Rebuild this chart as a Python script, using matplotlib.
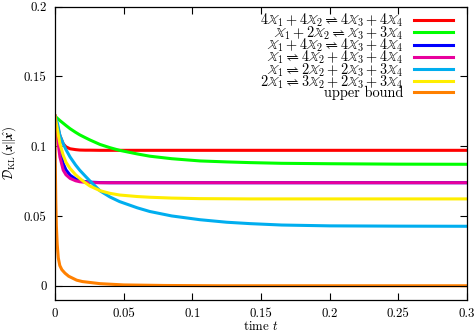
import matplotlib
matplotlib.use("Agg")
import matplotlib.pyplot as plt
from matplotlib.ticker import FuncFormatter, MultipleLocator

plt.rcParams["font.family"] = "serif"
plt.rcParams["font.serif"] = ["cmr10"]
plt.rcParams["mathtext.fontset"] = "cm"
plt.rcParams["axes.unicode_minus"] = False
plt.rcParams["axes.formatter.use_mathtext"] = True

# ── data ─────────────────────────────────────────────────────────────────────
t = [0, 0.001, 0.002, 0.0036, 0.006, 0.008, 0.011, 0.015, 0.018, 0.022, 0.0255,
     0.0328, 0.04, 0.047, 0.06, 0.069, 0.085, 0.1056, 0.125, 0.142, 0.165,
     0.2, 0.25, 0.3]

red = [0.1215, 0.1175, 0.1135, 0.1075, 0.1017, 0.0995, 0.0981, 0.0975, 0.0972, 0.0971, 0.0971,
       0.0970, 0.0970, 0.0970, 0.0970, 0.0970, 0.0970, 0.0970, 0.0970, 0.0970, 0.0970,
       0.0970, 0.0970, 0.0970]
green = [0.1215, 0.1206, 0.1197, 0.1183, 0.1164, 0.1148, 0.1125, 0.1099, 0.1081, 0.1061, 0.1044,
         0.1012, 0.0989, 0.0970, 0.0944, 0.0928, 0.0910, 0.0894, 0.0887, 0.0882, 0.0877,
         0.0874, 0.0871, 0.0870]
blue = [0.1215, 0.1140, 0.1070, 0.0980, 0.0875, 0.0830, 0.0792, 0.0765, 0.0752, 0.0746, 0.0742,
        0.0739, 0.0738, 0.0738, 0.0738, 0.0738, 0.0738, 0.0738, 0.0738, 0.0738, 0.0738,
        0.0738, 0.0738, 0.0738]
magenta = [0.1215, 0.1135, 0.1045, 0.0922, 0.0828, 0.0795, 0.0769, 0.0752, 0.0745, 0.0741, 0.0739,
           0.0738, 0.0738, 0.0738, 0.0738, 0.0738, 0.0738, 0.0738, 0.0738, 0.0738, 0.0738,
           0.0738, 0.0738, 0.0738]
cyan = [0.1215, 0.1190, 0.1155, 0.1076, 0.1017, 0.0975, 0.0922, 0.0865, 0.0828, 0.0786, 0.0750,
        0.0680, 0.0636, 0.0603, 0.0558, 0.0532, 0.0500, 0.0473, 0.0455, 0.0445, 0.0435,
        0.0429, 0.0427, 0.0426]
yellow = [0.1215, 0.1160, 0.1105, 0.1017, 0.0934, 0.0885, 0.0840, 0.0795, 0.0769, 0.0738, 0.0714,
          0.0681, 0.0662, 0.0650, 0.0639, 0.0634, 0.0628, 0.0624, 0.0623, 0.0622, 0.0622,
          0.0622, 0.0622, 0.0622]

t_bound = [0, 0.0001, 0.0003, 0.0006, 0.001, 0.0016, 0.0024, 0.0035, 0.005, 0.0073,
           0.01, 0.0158, 0.02, 0.0328, 0.05, 0.08, 0.12, 0.3]
bound = [0.1215, 0.100, 0.082, 0.060, 0.043, 0.030, 0.020, 0.0145, 0.0115, 0.0090,
         0.0068, 0.0040, 0.0030, 0.0015, 0.0006, 0.0002, 0.0, 0.0]

labels = [
    r"$4\mathbb{X}_1 + 4\mathbb{X}_2 \rightleftharpoons 4\mathbb{X}_3 + 4\mathbb{X}_4$",
    r"$\mathbb{X}_1 + 2\mathbb{X}_2 \rightleftharpoons \mathbb{X}_3 + 3\mathbb{X}_4$",
    r"$\mathbb{X}_1 + 4\mathbb{X}_2 \rightleftharpoons 4\mathbb{X}_3 + 4\mathbb{X}_4$",
    r"$\mathbb{X}_1 \rightleftharpoons 4\mathbb{X}_2 + 4\mathbb{X}_3 + 4\mathbb{X}_4$",
    r"$\mathbb{X}_1 \rightleftharpoons 2\mathbb{X}_2 + 2\mathbb{X}_3 + 3\mathbb{X}_4$",
    r"$2\mathbb{X}_1 \rightleftharpoons 3\mathbb{X}_2 + 2\mathbb{X}_3 + 3\mathbb{X}_4$",
    "upper bound",
]
series = [red, green, blue, magenta, cyan, yellow]
colors = ["#ff0000", "#00ff00", "#0000ff", "#e8009c", "#00aeef", "#ffee00", "#ff8000"]

# ── plot ─────────────────────────────────────────────────────────────────────
fig = plt.figure(figsize=(4.76, 3.34), dpi=100)
ax = fig.add_axes([0.1155, 0.1018, 0.8655, 0.8787])

for vals, lab, c in zip(series, labels[:-1], colors[:-1]):
    ax.plot(t, vals, color=c, lw=2.2, label=lab)
ax.plot(t_bound, bound, color=colors[-1], lw=2.2, label=labels[-1])
ax.axhline(0, color="black", lw=0.8, zorder=5)

ax.set_xlim(0, 0.3)
ax.set_ylim(-0.0102, 0.2)
ax.xaxis.set_major_locator(MultipleLocator(0.05))
ax.yaxis.set_major_locator(MultipleLocator(0.05))
fmt = FuncFormatter(lambda v, p: "%g" % round(v, 4))
ax.xaxis.set_major_formatter(fmt)
ax.yaxis.set_major_formatter(fmt)
ax.tick_params(direction="in", top=True, right=True, length=5, width=0.8,
               labelsize=9.3, pad=6)
for sp in ax.spines.values():
    sp.set_linewidth(0.9)

ax.set_xlabel(r"time $t$", fontsize=9.3, labelpad=0)
ax.set_ylabel(r"$\mathcal{D}_{\mathrm{KL}}(\mathbfit{x}\|\hat{\mathbfit{x}})$", fontsize=9.3, labelpad=4)

ax.legend(loc="upper right", frameon=False, markerfirst=False, fontsize=10.3,
          handlelength=2.73, handletextpad=0.77, labelspacing=-0.36,
          borderaxespad=0, borderpad=0,
          bbox_to_anchor=(453 / 476, 1 - 12 / 334), bbox_transform=fig.transFigure)

fig.savefig("out.png", dpi=100)
